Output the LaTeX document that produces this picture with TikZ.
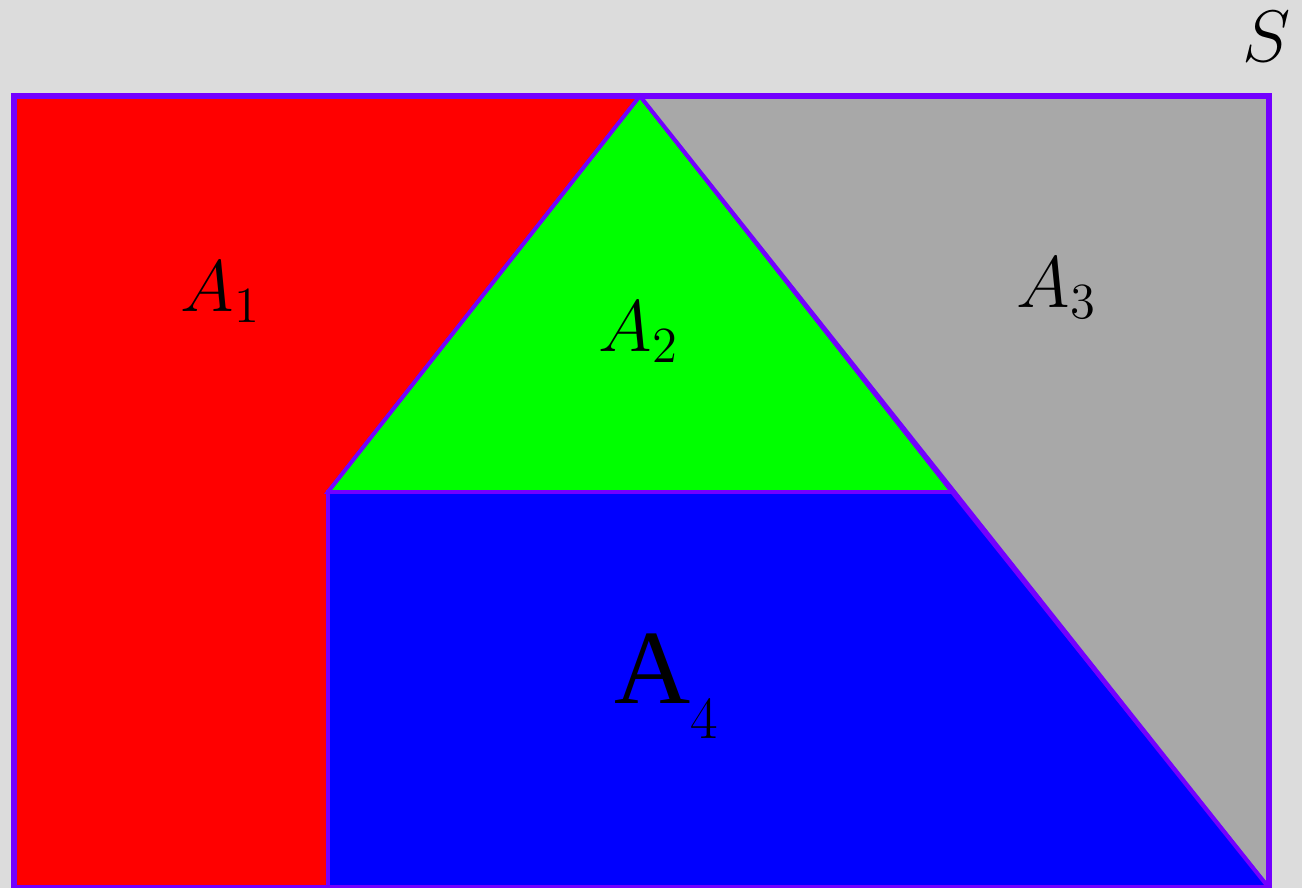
\documentclass[tikz,border=0pt]{standalone}
\usepackage{tikz}
\usepackage{xcolor}
\usepackage{fontspec}
\newfontfamily\timesfont{Liberation Serif}
\definecolor{bgrey}{HTML}{DCDCDC}
\definecolor{edgeviolet}{HTML}{7300FF}
\definecolor{regred}{HTML}{FF0000}
\definecolor{reggreen}{HTML}{00FF00}
\definecolor{reggrey}{HTML}{A8A8A8}
\definecolor{regblue}{HTML}{0000FF}

\begin{document}
\begin{tikzpicture}[x=0.01cm, y=-0.01cm,
  region/.style={draw=edgeviolet, line width=1.1pt, line join=miter},
  lab/.style={font=\huge, inner sep=0pt, anchor=base}]
  % Background and page size
  \fill[bgrey] (0,0) rectangle (1302,888);
  \useasboundingbox (0,0) rectangle (1302,888);

  % Corners of the set S
  \coordinate (TL) at (14,96);
  \coordinate (TR) at (1269,96);
  \coordinate (BR) at (1269,888);
  \coordinate (BL) at (14,888);

  % Inner points
  \coordinate (top) at (640,96);
  \coordinate (midL) at (328,492);
  \coordinate (midR) at (952,492);
  \coordinate (botL) at (328,888);

  % Regions
  \filldraw[region, fill=regred] (TL) -- (top) -- (midL) -- (botL) -- (BL) -- cycle;
  \filldraw[region, fill=reggreen] (top) -- (midR) -- (midL) -- cycle;
  \filldraw[region, fill=reggrey] (top) -- (TR) -- (BR) -- cycle;
  \filldraw[region, fill=regblue] (midL) -- (midR) -- (BR) -- (botL) -- cycle;

  % Outline of S
  \draw[edgeviolet, line width=1.7pt] (TL) rectangle (BR);

  % Labels
  \node[lab] (a1) at (221,312) {$A_1$};
  \node[lab] (a2) at (639,352) {$A_2$};
  \node[lab] (a3) at (1057,308) {$A_3$};
  \node[inner sep=0pt, anchor=base west] (a4) at (614,703)
    {{\fontsize{30}{34}\timesfont A}\raisebox{-0.35cm}{\fontsize{17}{20}\selectfont 4}};
  \node[lab] (s) at (1267,62) {$S$};
\end{tikzpicture}
\end{document}
